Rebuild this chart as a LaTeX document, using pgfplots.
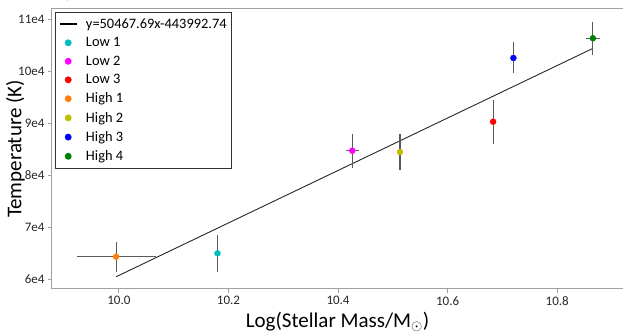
\documentclass[border=0pt]{standalone}
\usepackage{pgfplots}
\pgfplotsset{compat=1.18}
\usepackage{fontspec}
\setmainfont{Carlito}
\definecolor{cC}{RGB}{0,191,191}
\definecolor{cM}{RGB}{255,0,255}
\definecolor{cR}{RGB}{255,0,0}
\definecolor{cO}{RGB}{255,127,14}
\definecolor{cY}{RGB}{191,191,0}
\definecolor{cB}{RGB}{0,0,255}
\definecolor{cG}{RGB}{0,128,0}
\definecolor{spine}{RGB}{160,160,160}
\definecolor{ebar}{RGB}{90,90,90}
\begin{document}
\begin{tikzpicture}
\begin{axis}[
  scale only axis, width=571pt, height=280pt,
  xmin=9.878, xmax=10.92, ymin=58077, ymax=111923,
  axis line style={draw=none},
  xtick={10,10.2,10.4,10.6,10.8},
  xticklabels={10.0,10.2,10.4,10.6,10.8},
  ytick={60000,70000,80000,90000,100000,110000},
  yticklabels={6e4,7e4,8e4,9e4,10e4,11e4},
  xtick pos=bottom, ytick pos=left,
  tick align=outside, major tick length=4pt,
  tick style={spine, line width=0.8pt},
  ticklabel style={font=\fontsize{13}{15}\selectfont, text=black!85},
  /pgf/number format/assume math mode=true,
  xlabel={Log(Stellar Mass/M$_{\odot}$)},
  ylabel={Temperature (K)},
  label style={font=\fontsize{21}{25}\selectfont},
  every axis y label/.append style={at={(axis description cs:-0.064,0.5)}, rotate=0, anchor=center},
  legend cell align=left,
  legend style={at={(0.0053,0.989)}, anchor=north west, draw=black!80, line width=0.8pt,
    font=\fontsize{14.4}{17}\selectfont, row sep=3.7pt, inner xsep=3pt, inner ysep=4pt,
    /tikz/every odd column/.append style={column sep=6pt}},
  clip=false,
]
\draw[spine, line width=1pt] (rel axis cs:0,0) -- (rel axis cs:1,0);
\draw[spine, line width=1pt] (rel axis cs:0,0) -- (rel axis cs:0,1) -- (rel axis cs:1,1);
\addplot[black!85, line width=0.9pt,
  legend image code/.code={\draw[black, line width=2.5pt] (0cm,0cm) -- (0.6cm,0cm);}]
  coordinates {(9.995,60432) (10.865,104339)};
\addlegendentry{y=50467.69x-443992.74}
\pgfplotsset{ebstyle/.style={only marks, mark=*, mark size=3pt,
  error bars/.cd, x dir=both, x explicit, y dir=both, y explicit,
  error mark=none, error bar style={line width=1.1pt, color=ebar}}}
\addplot[cC, mark options={fill=cC, draw=cC}, ebstyle] coordinates {(10.180,64940) +- (0,3560)};
\addlegendentry{Low 1}
\addplot[cM, mark options={fill=cM, draw=cM}, ebstyle] coordinates {(10.426,84670) +- (0.012,3270)};
\addlegendentry{Low 2}
\addplot[cR, mark options={fill=cR, draw=cR}, ebstyle] coordinates {(10.683,90250) +- (0,4230)};
\addlegendentry{Low 3}
\addplot[cO, mark options={fill=cO, draw=cO}, ebstyle] coordinates {(9.995,64290) +- (0.072,2900)};
\addlegendentry{High 1}
\addplot[cY, mark options={fill=cY, draw=cY}, ebstyle] coordinates {(10.513,84420) +- (0,3550)};
\addlegendentry{High 2}
\addplot[cB, mark options={fill=cB, draw=cB}, ebstyle] coordinates {(10.720,102500) +- (0,2980)};
\addlegendentry{High 3}
\addplot[cG, mark options={fill=cG, draw=cG}, ebstyle] coordinates {(10.865,106290) +- (0.013,3150)};
\addlegendentry{High 4}
\end{axis}
\pgfresetboundingbox
\path (current axis.south west) ++(-52pt,-47pt) rectangle ++(623pt,336pt);
\end{tikzpicture}
\end{document}
